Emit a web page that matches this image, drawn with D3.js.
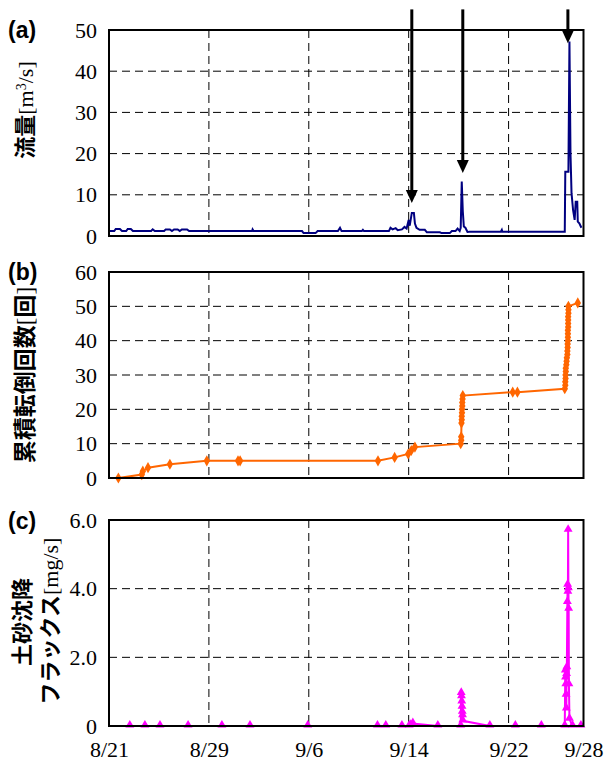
<!DOCTYPE html>
<html>
<head>
<meta charset="utf-8">
<script src="https://cdn.jsdelivr.net/npm/d3@7/dist/d3.min.js"></script>
<style>
body { margin: 0; background: #fff; }
</style>
</head>
<body>
<div id="chart"></div>
<script>
// (a) flow rate
var flowTime = ["08/21 00:00", "08/21 10:00", "08/21 13:00", "08/21 21:00", "08/22 01:00", "08/22 09:00",
    "08/22 12:00", "08/22 18:00", "08/22 22:00", "08/24 09:00", "08/24 12:00", "08/24 16:00",
    "08/25 10:00", "08/25 13:00", "08/25 21:00", "08/26 01:00", "08/26 05:00", "08/26 12:00",
    "08/26 16:00", "08/26 20:00", "08/27 06:00", "08/27 10:00", "09/01 11:00", "09/01 12:00",
    "09/01 14:00", "09/05 11:00", "09/05 14:00", "09/06 13:00", "09/06 17:00", "09/08 08:00",
    "09/08 12:00", "09/08 15:00", "09/10 06:00", "09/10 08:00", "09/10 10:00", "09/12 10:00",
    "09/12 13:00", "09/12 17:00", "09/12 23:00", "09/13 03:00", "09/13 11:00", "09/13 16:00",
    "09/13 20:00", "09/14 00:00", "09/14 02:00", "09/14 06:00", "09/14 10:00", "09/14 12:00",
    "09/14 15:00", "09/14 21:00", "09/15 07:00", "09/15 11:00", "09/16 12:00", "09/16 15:00",
    "09/17 07:00", "09/17 11:00", "09/17 18:00", "09/17 22:00", "09/18 02:00", "09/18 04:00",
    "09/18 06:00", "09/18 08:00", "09/18 10:00", "09/18 13:00", "09/18 17:00", "09/18 21:00",
    "09/21 09:00", "09/21 11:00", "09/21 12:00", "09/26 12:00", "09/26 13:00", "09/26 19:00",
    "09/26 21:00", "09/26 23:00", "09/27 01:00", "09/27 04:00", "09/27 07:00", "09/27 09:00",
    "09/27 12:00", "09/27 13:00", "09/27 16:00", "09/27 20:00"];
var flowValue = [1.2, 1.2, 1.7, 1.7, 1.2, 1.2,
    1.7, 1.7, 1.2, 1.2, 1.6, 1.2,
    1.2, 1.6, 1.6, 1.2, 1.6, 1.6,
    1.2, 1.6, 1.6, 1.2, 1.2, 1.6,
    1.2, 1.2, 0.7, 0.7, 1.2, 1.2,
    2.0, 1.2, 1.2, 1.5, 1.2, 1.2,
    2.0, 1.6, 1.9, 1.4, 1.6, 2.2,
    1.8, 3.9, 2.5, 5.6, 5.6, 3.0,
    2.0, 1.5, 1.5, 0.9, 0.9, 0.7,
    0.7, 1.2, 1.2, 1.8, 1.2, 2.0,
    13.2, 6.0, 2.3, 2.0, 1.0, 1.05,
    1.05, 1.5, 1.05, 1.05, 15.6, 15.6,
    47.2, 20, 10.4, 6.3, 3.9, 8.3,
    8.3, 3.5, 3.1, 2.0];
var arrowTime = ["09/14 06:00", "09/18 08:00", "09/26 18:00"];
var arrowTip = [8, 15.3, 46.8];
var arrowTop = 55;

// (b) cumulative tipping count
var countTime = ["08/21 00:00", "08/21 18:00", "08/23 15:00", "08/23 17:00", "08/24 03:00", "08/25 21:00",
    "08/28 20:00", "08/31 08:00", "08/31 12:00", "09/11 13:00", "09/12 21:00", "09/13 23:00",
    "09/14 05:00", "09/14 12:00", "09/18 04:00", "09/18 05:00", "09/18 05:00", "09/18 05:30",
    "09/18 06:00", "09/18 06:00", "09/18 06:30", "09/18 06:30", "09/18 07:00", "09/18 07:00",
    "09/18 07:30", "09/18 08:00", "09/22 08:00", "09/22 17:00", "09/26 12:00", "09/26 13:00",
    "09/26 13:00", "09/26 13:30", "09/26 13:30", "09/26 14:00", "09/26 14:00", "09/26 15:00",
    "09/26 15:30", "09/26 16:00", "09/26 17:00", "09/26 17:00", "09/26 17:30", "09/26 17:30",
    "09/26 18:00", "09/26 18:00", "09/26 18:00", "09/26 18:00", "09/26 18:30", "09/26 18:30",
    "09/26 18:30", "09/26 18:30", "09/26 19:00", "09/26 19:00", "09/26 19:00", "09/27 13:00"];
var countValue = [0, 0, 1, 2, 3, 4,
    5, 5, 5, 5, 6, 7,
    8, 9, 10, 11, 12, 16,
    17, 18, 19, 20, 21, 22,
    23, 24, 25, 25, 26, 27,
    28, 29, 30, 31, 32, 33,
    34, 35, 36, 37, 38, 39,
    40, 41, 42, 43, 44, 45,
    46, 47, 48, 49, 50, 51];

// (c) sediment flux
var fluxTime = ["08/21 00:00", "08/22 16:00", "08/23 21:00", "08/25 02:00", "08/27 08:00", "08/30 01:00",
    "09/01 07:00", "09/05 22:00", "09/11 12:00", "09/12 04:00", "09/13 11:00", "09/14 01:00",
    "09/14 04:00", "09/14 08:00", "09/16 08:00", "09/18 04:00", "09/18 05:00", "09/18 05:30",
    "09/18 06:00", "09/18 06:30", "09/18 07:00", "09/18 07:30", "09/18 08:00", "09/20 12:00",
    "09/22 13:00", "09/24 15:00", "09/26 12:00", "09/26 13:00", "09/26 13:30", "09/26 14:00",
    "09/26 14:30", "09/26 15:00", "09/26 15:30", "09/26 16:00", "09/26 17:00", "09/26 17:30",
    "09/26 18:00", "09/26 18:30", "09/26 19:00", "09/26 19:30", "09/26 20:00", "09/26 21:00",
    "09/27 03:00", "09/27 19:00"];
var fluxValue = [0, 0, 0, 0, 0, 0,
    0, 0, 0, 0, 0, 0,
    0.02, 0.07, 0, 0, 0.95, 0.85,
    0.7, 0.55, 0.4, 0.3, 0.15, 0,
    0, 0, 0, 1.6, 1.4, 1.2,
    0.9, 0.5, 1.5, 1.7, 3.6, 4.1,
    3.9, 5.7, 4.0, 3.4, 1.2, 0.2,
    0, 0];

var xTickTime = ["08/21 00:00", "08/29 00:00", "09/06 00:00", "09/14 00:00", "09/22 00:00", "09/28 00:00"];
var xTickLabel = ["8/21", "8/29", "9/6", "9/14", "9/22", "9/28"];
var gridTime = ["08/29 00:00", "09/06 00:00", "09/14 00:00", "09/22 00:00"];

var flowTicks = [0, 10, 20, 30, 40, 50];
var countTicks = [0, 10, 20, 30, 40, 50, 60];
var fluxTicks = [0, 2, 4, 6];

var parse = d3.timeParse("%m/%d %H:%M");
var W = 605, H = 762;
var left = 109, right = 583.5;
var jp = "Noto Sans CJK JP, sans-serif";
var serif = "Liberation Serif, Times New Roman, serif";

var svg = d3.select("#chart").append("svg")
    .attr("width", W)
    .attr("height", H)
    .attr("font-family", serif);

var x = d3.scaleTime()
    .domain([parse("08/21 00:00"), parse("09/28 00:00")])
    .range([left, right]);

function panel(top, bottom, ticks, fmt) {
    var y = d3.scaleLinear()
        .domain([0, ticks[ticks.length - 1]])
        .range([bottom, top]);
    var g = svg.append("g");

    // dashed grid
    g.selectAll(".hgrid")
        .data(ticks.slice(1, -1))
        .enter().append("line")
        .attr("x1", left).attr("x2", right)
        .attr("y1", y).attr("y2", y)
        .style("stroke", "#000")
        .style("stroke-width", 1)
        .style("stroke-dasharray", "8,5");
    g.selectAll(".vgrid")
        .data(gridTime.map(parse))
        .enter().append("line")
        .attr("x1", x).attr("x2", x)
        .attr("y1", top).attr("y2", bottom)
        .style("stroke", "#000")
        .style("stroke-width", 1)
        .style("stroke-dasharray", "8,5");

    var ax = g.append("g")
        .attr("transform", "translate(" + left + ",0)")
        .call(d3.axisLeft(y).tickValues(ticks).tickSize(0).tickPadding(12).tickFormat(fmt));
    ax.select(".domain").remove();
    ax.attr("font-family", serif).attr("font-size", 22);
    ax.selectAll("text").attr("fill", "#000");

    return {g: g, y: y, top: top, bottom: bottom};
}

function frame(p) {
    p.g.append("rect")
        .attr("x", left).attr("y", p.top)
        .attr("width", right - left).attr("height", p.bottom - p.top)
        .attr("fill", "none")
        .style("stroke", "#000")
        .style("stroke-width", 2);
}

function panelLabel(txt, yy) {
    svg.append("text")
        .attr("x", 8).attr("y", yy)
        .attr("font-family", "Liberation Sans, Arial, sans-serif")
        .attr("font-weight", "bold")
        .attr("font-size", 23)
        .text(txt);
}

// ---- (a)
var pa = panel(30, 236, flowTicks, d3.format("d"));
var flowData = flowTime.map(function (t, i) { return {t: parse(t), v: flowValue[i]}; });
pa.g.append("path")
    .datum(flowData)
    .attr("fill", "none")
    .style("stroke", "#000080")
    .style("stroke-width", 2)
    .attr("d", d3.line().x(function (d) { return x(d.t); }).y(function (d) { return pa.y(d.v); }));
frame(pa);

arrowTime.forEach(function (t, i) {
    var ax = x(parse(t)), tip = pa.y(arrowTip[i]);
    svg.append("line")
        .attr("x1", ax).attr("x2", ax)
        .attr("y1", pa.y(arrowTop)).attr("y2", tip - 10)
        .style("stroke", "#000")
        .style("stroke-width", 3);
    svg.append("path")
        .attr("d", "M" + (ax - 6) + "," + (tip - 13) + "L" + (ax + 6) + "," + (tip - 13) + "L" + ax + "," + tip + "Z")
        .attr("fill", "#000");
});

var ta = svg.append("text")
    .attr("transform", "translate(25,110) rotate(-90)")
    .attr("text-anchor", "middle")
    .attr("dy", "0.35em")
    .attr("font-size", 22);
ta.append("tspan").attr("font-family", jp).attr("font-weight", "bold").text("流量");
ta.append("tspan").text("[m");
ta.append("tspan").attr("font-size", 14).attr("baseline-shift", "super").text("3");
ta.append("tspan").text("/s]");
panelLabel("(a)", 38);

// ---- (b)
var pb = panel(272, 478, countTicks, d3.format("d"));
var countData = countTime.map(function (t, i) { return {t: parse(t), v: countValue[i]}; });
pb.g.append("path")
    .datum(countData)
    .attr("fill", "none")
    .style("stroke", "#ff6600")
    .style("stroke-width", 2)
    .attr("d", d3.line().x(function (d) { return x(d.t); }).y(function (d) { return pb.y(d.v); }));
pb.g.selectAll(".dia")
    .data(countData.slice(1))
    .enter().append("path")
    .attr("transform", function (d) { return "translate(" + x(d.t) + "," + pb.y(d.v) + ")"; })
    .attr("d", d3.symbol().type(d3.symbolDiamond).size(36))
    .attr("fill", "#ff6600");
frame(pb);

var tb = svg.append("text")
    .attr("transform", "translate(25,375) rotate(-90)")
    .attr("text-anchor", "middle")
    .attr("dy", "0.35em")
    .attr("font-size", 23);
tb.append("tspan").attr("font-family", jp).attr("font-weight", "bold").text("累積転倒回数");
tb.append("tspan").text("[");
tb.append("tspan").attr("font-family", jp).attr("font-weight", "bold").text("回");
tb.append("tspan").text("]");
panelLabel("(b)", 280);

// ---- (c)
var pc = panel(520, 726, fluxTicks, function (d) { return d === 0 ? "0" : d3.format(".1f")(d); });
var fluxData = fluxTime.map(function (t, i) { return {t: parse(t), v: fluxValue[i]}; });
pc.g.append("path")
    .datum(fluxData)
    .attr("fill", "none")
    .style("stroke", "#ff00ff")
    .style("stroke-width", 2)
    .attr("d", d3.line().x(function (d) { return x(d.t); }).y(function (d) { return pc.y(d.v); }));
pc.g.selectAll(".tri")
    .data(fluxData.slice(1))
    .enter().append("path")
    .attr("transform", function (d) { return "translate(" + x(d.t) + "," + (pc.y(d.v) - 1) + ")"; })
    .attr("d", d3.symbol().type(d3.symbolTriangle).size(34))
    .attr("fill", "#ff00ff");
frame(pc);

svg.append("text")
    .attr("transform", "translate(22,622) rotate(-90)")
    .attr("text-anchor", "middle")
    .attr("dy", "0.35em")
    .attr("font-size", 22)
    .attr("font-family", jp)
    .attr("font-weight", "bold")
    .text("土砂沈降");
var tc2 = svg.append("text")
    .attr("transform", "translate(50,621) rotate(-90)")
    .attr("text-anchor", "middle")
    .attr("dy", "0.35em")
    .attr("font-size", 22);
tc2.append("tspan").attr("font-family", jp).attr("font-weight", "bold").text("フラックス");
tc2.append("tspan").text("[mg/s]");
panelLabel("(c)", 529);

// x axis (bottom only)
var xa = svg.append("g")
    .attr("transform", "translate(0,726)")
    .call(d3.axisBottom(x)
        .tickValues(xTickTime.map(parse))
        .tickSize(0)
        .tickPadding(15)
        .tickFormat(function (d, i) { return xTickLabel[i]; }));
xa.select(".domain").remove();
xa.attr("font-family", serif).attr("font-size", 22);
xa.selectAll("text").attr("fill", "#000");
</script>
</body>
</html>
